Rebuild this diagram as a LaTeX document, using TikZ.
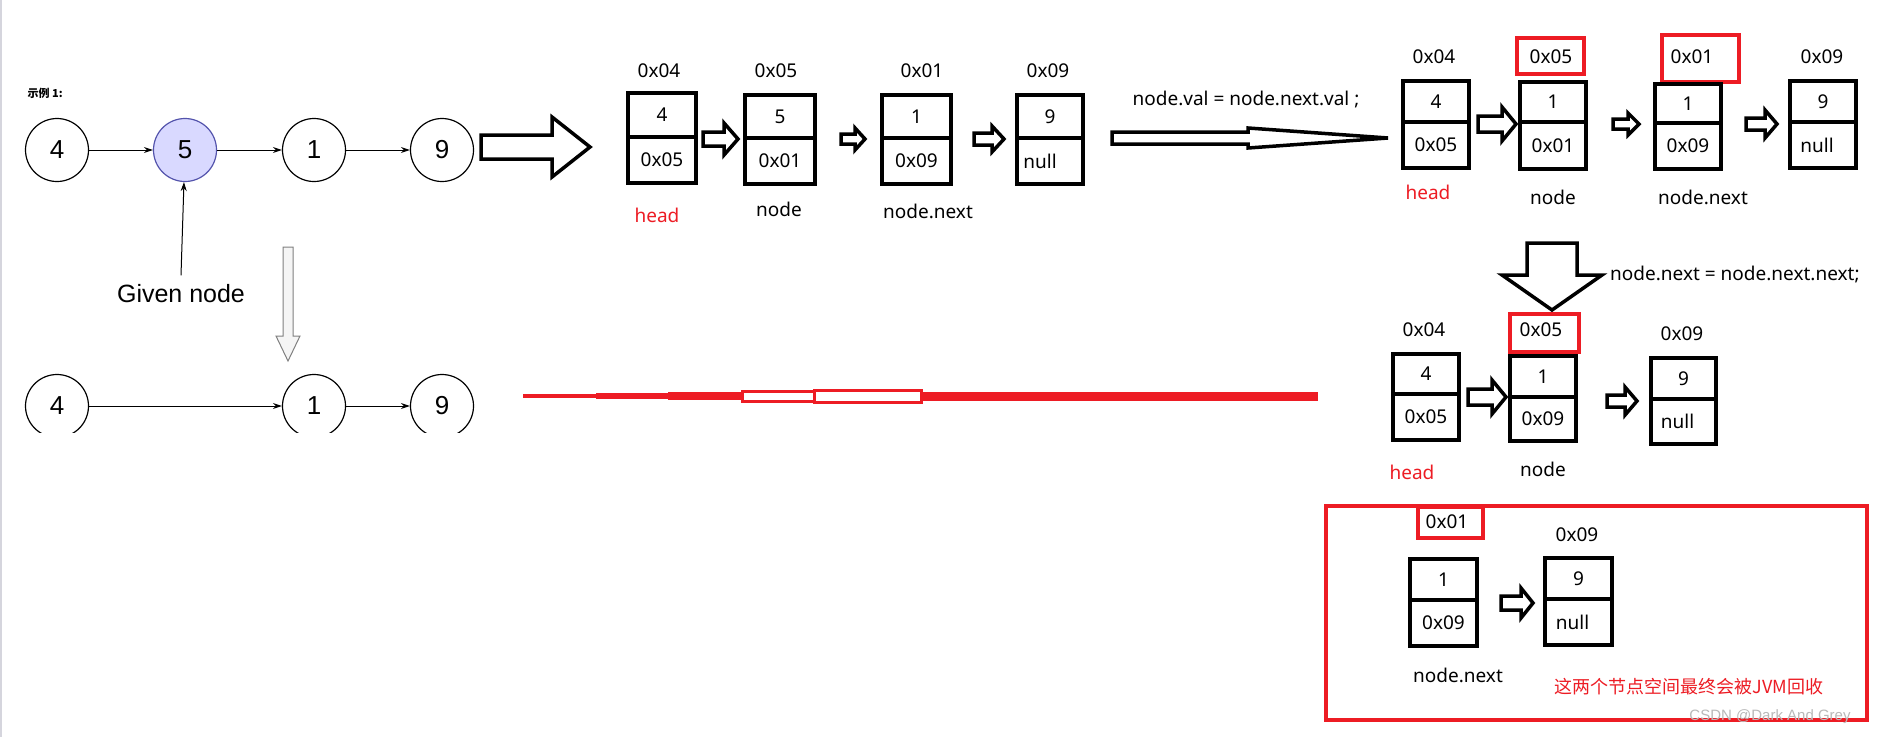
\documentclass[tikz,border=0pt]{standalone}
\usepackage{fontspec}
\setmainfont{Noto Sans}
\newfontfamily\arial{Liberation Sans}
\newfontfamily\cjk{Noto Sans CJK SC}
\usetikzlibrary{arrows.meta}
\definecolor{myred}{HTML}{ED1C24}
\tikzset{
  boxl/.style={line width=4pt,line join=miter},
  harrow/.style={line width=3.5pt,line join=miter,fill=white},
  txt/.style={font=\fontsize{19}{19}\selectfont,inner sep=0},
  rtxt/.style={txt,text=myred},
  circ/.style={circle,draw,line width=1.2pt,minimum size=63pt,font=\arial\fontsize{26}{26}\selectfont},
  link/.style={-{Stealth[length=9pt,width=6pt]},line width=1pt},
  redframe/.style={draw=myred,line width=3.5pt}
}
\newcommand\harr[6]{\draw[harrow] (#1,#3-#4) -- (#2-#6,#3-#4) -- (#2-#6,#3-#5) -- (#2,#3) -- (#2-#6,#3+#5) -- (#2-#6,#3+#4) -- (#1,#3+#4) -- cycle;}
\newcommand\lnode[8]{%
  \draw[boxl] (#2,#3) rectangle (#4,#5);
  \draw[boxl] (#2,#6) -- (#4,#6);
  \coordinate (#1) at ({(#2+#4)/2},{(#3+#5)/2});
  \node[txt] (#1t) at ({(#2+#4)/2},{(#3+#6)/2}) {#7};
  \node[txt] (#1b) at ({(#2+#4)/2},{(#6+#5)/2}) {#8};}
\begin{document}
\begin{tikzpicture}[x=1pt,y=-1pt]
\useasboundingbox (0,0) rectangle (1887,737);
\fill[white] (0,0) rectangle (1887,737);
\draw[blue!10!gray!30,line width=2pt] (1,0) -- (1,737);
% left part
\node[font=\cjk\fontsize{11}{11}\selectfont\bfseries,anchor=west] (ex) at (24,93) {示例 1:};
\node[circ] (a4) at (57,150) {4};
\node[circ,fill=blue!15,draw=blue!35!gray] (a5) at (185,150) {5};
\node[circ] (a1) at (314,150) {1};
\node[circ] (a9) at (442,150) {9};
\draw[link] (a4) -- (a5); \draw[link] (a5) -- (a1); \draw[link] (a1) -- (a9);
\node[font=\arial\fontsize{25}{25}\selectfont] (given) at (181,294) {Given node};
\draw[link] (given.north) ++(0,-6) -- (a5);
\draw[gray,fill=gray!8,line width=1pt] (283,247) -- (293,247) -- (293,336) -- (300,336) -- (288,361) -- (276,336) -- (283,336) -- cycle;
\begin{scope}
\clip (0,0) rectangle (600,432);
\node[circ] (b4) at (57,406) {4};
\node[circ] (b1) at (314,406) {1};
\node[circ] (b9) at (442,406) {9};
\draw[link] (b4) -- (b1); \draw[link] (b1) -- (b9);
\end{scope}
% red line
\draw[myred,line width=4pt] (523,396) -- (596,396);
\draw[myred,line width=6pt] (596,396) -- (668,396);
\draw[myred,line width=8pt] (668,396) -- (742,396);
\draw[myred,line width=3pt] (742,391) rectangle (814,401);
\draw[myred,line width=3pt] (814,390) rectangle (921,402);
\draw[myred,line width=9pt] (921,396) -- (1318,396);
% big arrow
\harr{481}{590}{147}{12}{30}{38}
% group 1
\node[txt] (l11) at (659,71) {0x04};
\node[txt] (l12) at (776,71) {0x05};
\node[txt] (l13) at (922,71) {0x01};
\node[txt] (l14) at (1048,71) {0x09};
\lnode{g11}{628}{93}{696}{183}{137}{4}{0x05}
\lnode{g12}{745}{95}{815}{184}{138}{5}{0x01}
\lnode{g13}{882}{95}{951}{184}{138}{1}{0x09}
\lnode{g14}{1017}{95}{1083}{184}{138}{9}{\hspace*{-20pt}null}
\harr{703}{738}{139}{7}{16}{14}
\harr{841}{865}{139}{5}{11}{10}
\harr{974}{1004}{139}{6}{13}{12}
\node[rtxt] (h1) at (657,215) {head};
\node[txt] (n1) at (779,209) {node};
\node[txt] (nn1) at (928,211) {node.next};
% middle text/arrow
\node[txt] (op1) at (1246,100) {node.val = node.next.val ;};
\harr{1112}{1388}{138}{6}{10}{140}
% group 2
\node[txt] (l21) at (1434,57) {0x04};
\node[txt] (l22) at (1551,57) {0x05};
\node[txt] (l23) at (1692,57) {0x01};
\node[txt] (l24) at (1822,57) {0x09};
\draw[redframe] (1517,38) rectangle (1584,74);
\draw[redframe] (1662,35) rectangle (1739,82);
\lnode{g21}{1403}{81}{1469}{168}{122}{4}{0x05}
\lnode{g22}{1520}{82}{1586}{169}{122}{1}{0x01}
\lnode{g23}{1655}{84}{1721}{169}{123}{1}{0x09}
\lnode{g24}{1790}{81}{1856}{168}{122}{9}{\hspace*{-12pt}null}
\harr{1478}{1516}{124}{8}{17}{14}
\harr{1613}{1639}{124}{5}{11}{11}
\harr{1746}{1777}{124}{6}{14}{12}
\node[rtxt] (h2) at (1428,192) {head};
\node[txt] (n2) at (1553,197) {node};
\node[txt] (nn2) at (1703,197) {node.next};
% down arrow
\draw[harrow] (1527,243) -- (1577,243) -- (1577,275) -- (1602,275) -- (1552,310) -- (1502,275) -- (1527,275) -- cycle;
\node[txt,anchor=west] (op2) at (1610,274) {node.next = node.next.next;};
% group 3
\node[txt] (l31) at (1424,330) {0x04};
\node[txt] (l32) at (1541,330) {0x05};
\node[txt] (l33) at (1682,334) {0x09};
\draw[redframe] (1510,314) rectangle (1579,352);
\lnode{g31}{1393}{354}{1459}{440}{394}{4}{0x05}
\lnode{g32}{1510}{356}{1576}{441}{397}{1}{0x09}
\lnode{g33}{1651}{358}{1716}{444}{399}{9}{\hspace*{-12pt}null}
\harr{1468}{1506}{397}{8}{17}{14}
\harr{1607}{1637}{401}{6}{14}{12}
\node[rtxt] (h3) at (1412,472) {head};
\node[txt] (n3) at (1543,469) {node};
% red frame group 4
\draw[redframe] (1326,506) rectangle (1867,720);
\node[txt] (l41) at (1447,522) {0x01};
\node[txt] (l42) at (1577,535) {0x09};
\draw[redframe] (1418,507) rectangle (1483,538);
\lnode{g41}{1410}{559}{1477}{646}{600}{1}{0x09}
\lnode{g42}{1545}{558}{1612}{645}{599}{9}{\hspace*{-12pt}null}
\harr{1501}{1533}{603}{7}{15}{12}
\node[txt] (nn4) at (1458,675) {node.next};
\node[text=myred,font=\cjk\fontsize{18}{18}\selectfont,inner sep=0] (cn) at (1689,687) {这两个节点空间最终会被JVM回收};
\node[text=gray!55,font=\arial\fontsize{15}{15}\selectfont,inner sep=0] (wm) at (1770,717) {CSDN @Dark And Grey};
\end{tikzpicture}
\end{document}
